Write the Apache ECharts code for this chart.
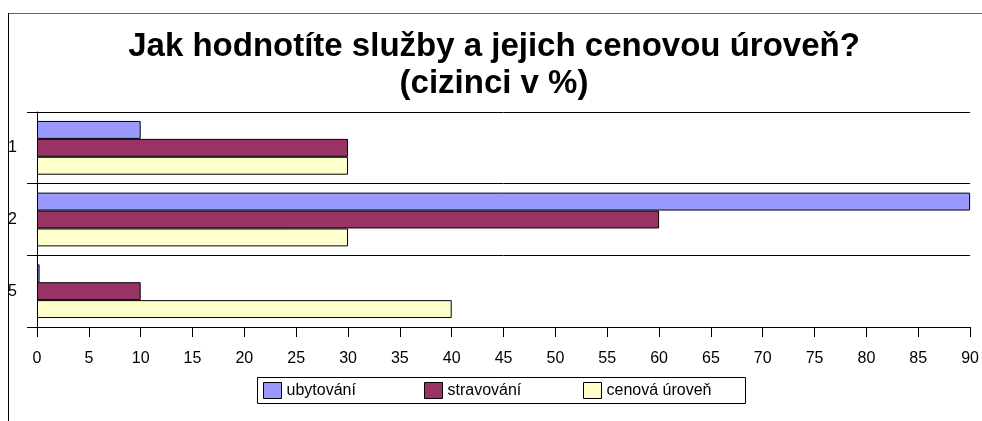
<!DOCTYPE html>
<html>
<head>
<meta charset="utf-8">
<script src="https://cdn.jsdelivr.net/npm/echarts@6/dist/echarts.min.js"></script>
<style>
  html, body { margin: 0; padding: 0; background: #fff; }
  #chart { width: 982px; height: 421px; }
</style>
</head>
<body>
<div id="chart"></div>
<script>
// data
var categories = ['1', '2', '5'];
var ubytovani = [10, 90, 0.25];
var stravovani = [30, 60, 10];
var cenovaUroven = [30, 30, 40];
var seriesNames = ['ubytování', 'stravování', 'cenová úroveň'];
var xTicks = { min: 0, max: 90, interval: 5 };

var font = '"Liberation Sans", Arial, sans-serif';

var chart = echarts.init(document.getElementById('chart'));

function barSeries(name, values, color) {
	return {
		name: name,
		type: 'bar',
		data: values,
		barGap: '0%',
		barCategoryGap: '25%',
		itemStyle: { color: color, borderColor: '#000', borderWidth: 1 },
		emphasis: { disabled: true }
	};
}

// one legend per item so the spacing matches the picture
var legendLeft = [263, 424, 583];
var legends = seriesNames.map(function (name, i) {
	return {
		data: [name],
		left: legendLeft[i],
		top: 382,
		padding: 0,
		itemWidth: 18,
		itemHeight: 16,
		itemGap: 6,
		icon: 'rect',
		itemStyle: { borderColor: '#000', borderWidth: 1 },
		textStyle: { fontSize: 16, color: '#000', fontFamily: font }
	};
});

var option = {
	animation: false,
	backgroundColor: '#fff',
	textStyle: { fontFamily: font },
	title: {
		text: 'Jak hodnotíte služby a jejich cenovou úroveň?\n(cizinci v %)',
		left: 489,
		top: 23,
		textAlign: 'center',
		textStyle: { fontSize: 33, fontWeight: 'bold', color: '#000', lineHeight: 37, fontFamily: font }
	},
	graphic: [
		// outer frame of the chart area
		{ type: 'line', shape: { x1: 8, y1: 13.5, x2: 982, y2: 13.5 }, style: { stroke: '#666', lineWidth: 1 } },
		{ type: 'line', shape: { x1: 8.5, y1: 13, x2: 8.5, y2: 421 }, style: { stroke: '#000', lineWidth: 1 } },
		// legend box
		{ type: 'rect', shape: { x: 257.5, y: 377.5, width: 488, height: 26 }, style: { fill: 'none', stroke: '#000', lineWidth: 1 } }
	],
	legend: legends,
	grid: { left: 37, right: 10, top: 112, bottom: 94, containLabel: false },
	xAxis: {
		type: 'value',
		min: xTicks.min,
		max: xTicks.max,
		interval: xTicks.interval,
		axisLine: { show: true, lineStyle: { color: '#000' } },
		axisTick: { show: true, length: 10, lineStyle: { color: '#000' } },
		axisLabel: { fontSize: 16, color: '#000', margin: 24 },
		splitLine: { show: false }
	},
	yAxis: {
		type: 'category',
		data: categories,
		inverse: true,
		axisLine: { show: true, lineStyle: { color: '#000' } },
		axisTick: { show: true, length: 10, lineStyle: { color: '#000' } },
		axisLabel: { fontSize: 16, color: '#000', margin: 20 },
		splitLine: { show: true, lineStyle: { color: '#000', width: 1 } }
	},
	series: [
		barSeries(seriesNames[0], ubytovani, '#9999FF'),
		barSeries(seriesNames[1], stravovani, '#993366'),
		barSeries(seriesNames[2], cenovaUroven, '#FFFFCC')
	]
};

chart.setOption(option);
</script>
</body>
</html>
